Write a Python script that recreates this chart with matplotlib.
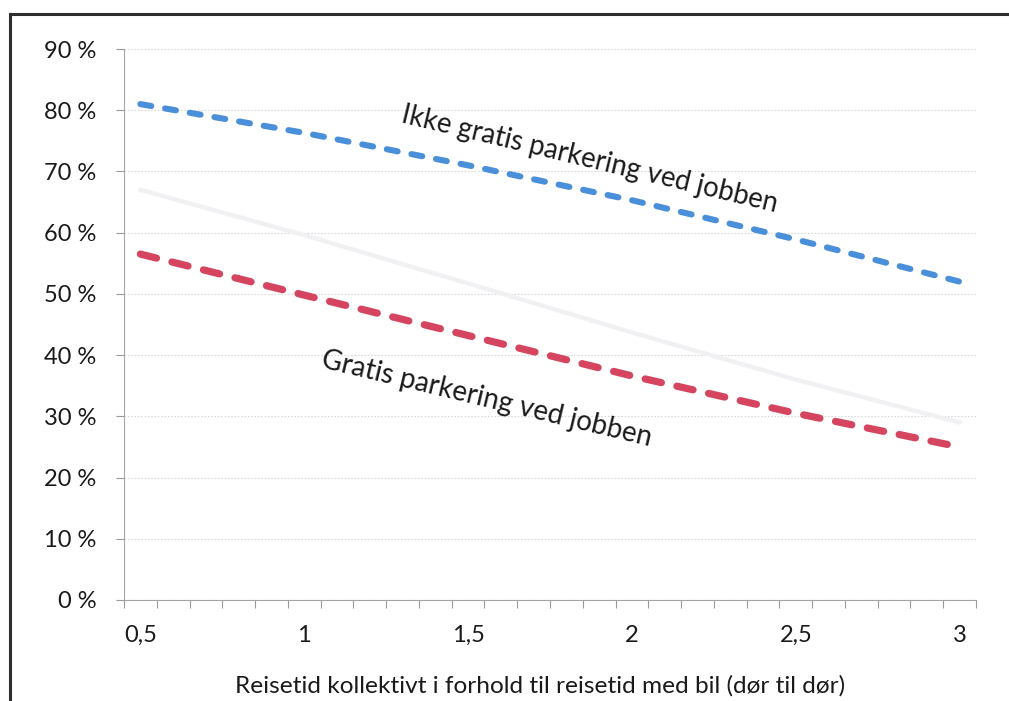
import matplotlib
matplotlib.use("Agg")
import matplotlib.pyplot as plt
from matplotlib.patches import Rectangle
from matplotlib.ticker import FixedLocator, NullFormatter

# Travel time ratio (public transport vs. car, door to door)
ratio = [0.5, 1.0, 1.5, 2.0, 2.5, 3.0]

# Share choosing car (%)
no_free_parking = [81.0, 76.3, 71.0, 65.3, 58.9, 52.0]
free_parking = [56.5, 49.8, 43.2, 36.6, 30.5, 25.0]
average = [67.0, 59.6, 51.7, 43.7, 36.0, 29.0]

x_ticks = [0.5, 1.0, 1.5, 2.0, 2.5, 3.0]
x_tick_labels = ["0,5", "1", "1,5", "2", "2,5", "3"]
y_ticks = [0, 10, 20, 30, 40, 50, 60, 70, 80, 90]
y_tick_labels = [f"{v} %" for v in y_ticks]

label_no_free = "Ikke gratis parkering ved jobben"
label_free = "Gratis parkering ved jobben"
x_title = "Reisetid kollektivt i forhold til reisetid med bil (dør til dør)"

plt.rcParams["font.family"] = ["Lato", "DejaVu Sans"]
text_color = "#1a1a1a"

fig = plt.figure(figsize=(10.09, 7.01), dpi=100)
fig.patch.set_facecolor("white")
ax = fig.add_axes([124 / 1009, 1 - 600 / 701, 852 / 1009, 551 / 701])

ax.plot(ratio, average, color="#f1f1f4", lw=3.2, solid_capstyle="round", zorder=2)
ax.plot(ratio, no_free_parking, color="#4a8fda", lw=4.4,
        dashes=(1.8, 2.3), dash_capstyle="round", zorder=3)
ax.plot(ratio, free_parking, color="#d6455f", lw=5.2,
        dashes=(2.3, 2.2), dash_capstyle="round", zorder=3)

ax.set_xlim(0.45, 3.05)
ax.set_ylim(0, 90)

# Category-style tick marks between the ratio steps
ax.xaxis.set_major_locator(FixedLocator(x_ticks))
ax.set_xticklabels(x_tick_labels)
ax.xaxis.set_minor_locator(FixedLocator([0.45 + 0.1 * i for i in range(27)]))
ax.xaxis.set_minor_formatter(NullFormatter())
ax.tick_params(axis="x", which="major", length=0, pad=18, labelsize=17, labelcolor=text_color)
ax.tick_params(axis="x", which="minor", length=6, width=0.8, color="#9a9a9a", direction="out")

ax.set_yticks(y_ticks)
ax.set_yticklabels(y_tick_labels)
ax.tick_params(axis="y", length=6, width=0.8, color="#9a9a9a", pad=14, labelsize=17,
               labelcolor=text_color)

ax.grid(axis="y", color="#d8d8dc", linestyle=(0, (1.5, 1.5)), linewidth=0.8, zorder=0)
for side in ("top", "right"):
    ax.spines[side].set_visible(False)
for side in ("left", "bottom"):
    ax.spines[side].set_color("#a5a5a5")
    ax.spines[side].set_linewidth(0.8)

ax.text(1.872, 71.9, label_no_free, rotation=-13.5, rotation_mode="anchor",
        ha="center", va="center", fontsize=19.8, color=text_color)
ax.text(1.557, 32.8, label_free, rotation=-13.5, rotation_mode="anchor",
        ha="center", va="center", fontsize=20, color=text_color)

fig.text(540 / 1009, 1 - 686 / 701, x_title, ha="center", va="center",
         fontsize=17.6, color=text_color)

# Page frame around the chart
fig.patches.append(Rectangle((10 / 1009, -0.2), 1.2, 1 - 14 / 701 + 0.2,
                             transform=fig.transFigure, fill=False,
                             edgecolor="#2e2e30", linewidth=2.2))

fig.savefig("out.png", dpi=100)
